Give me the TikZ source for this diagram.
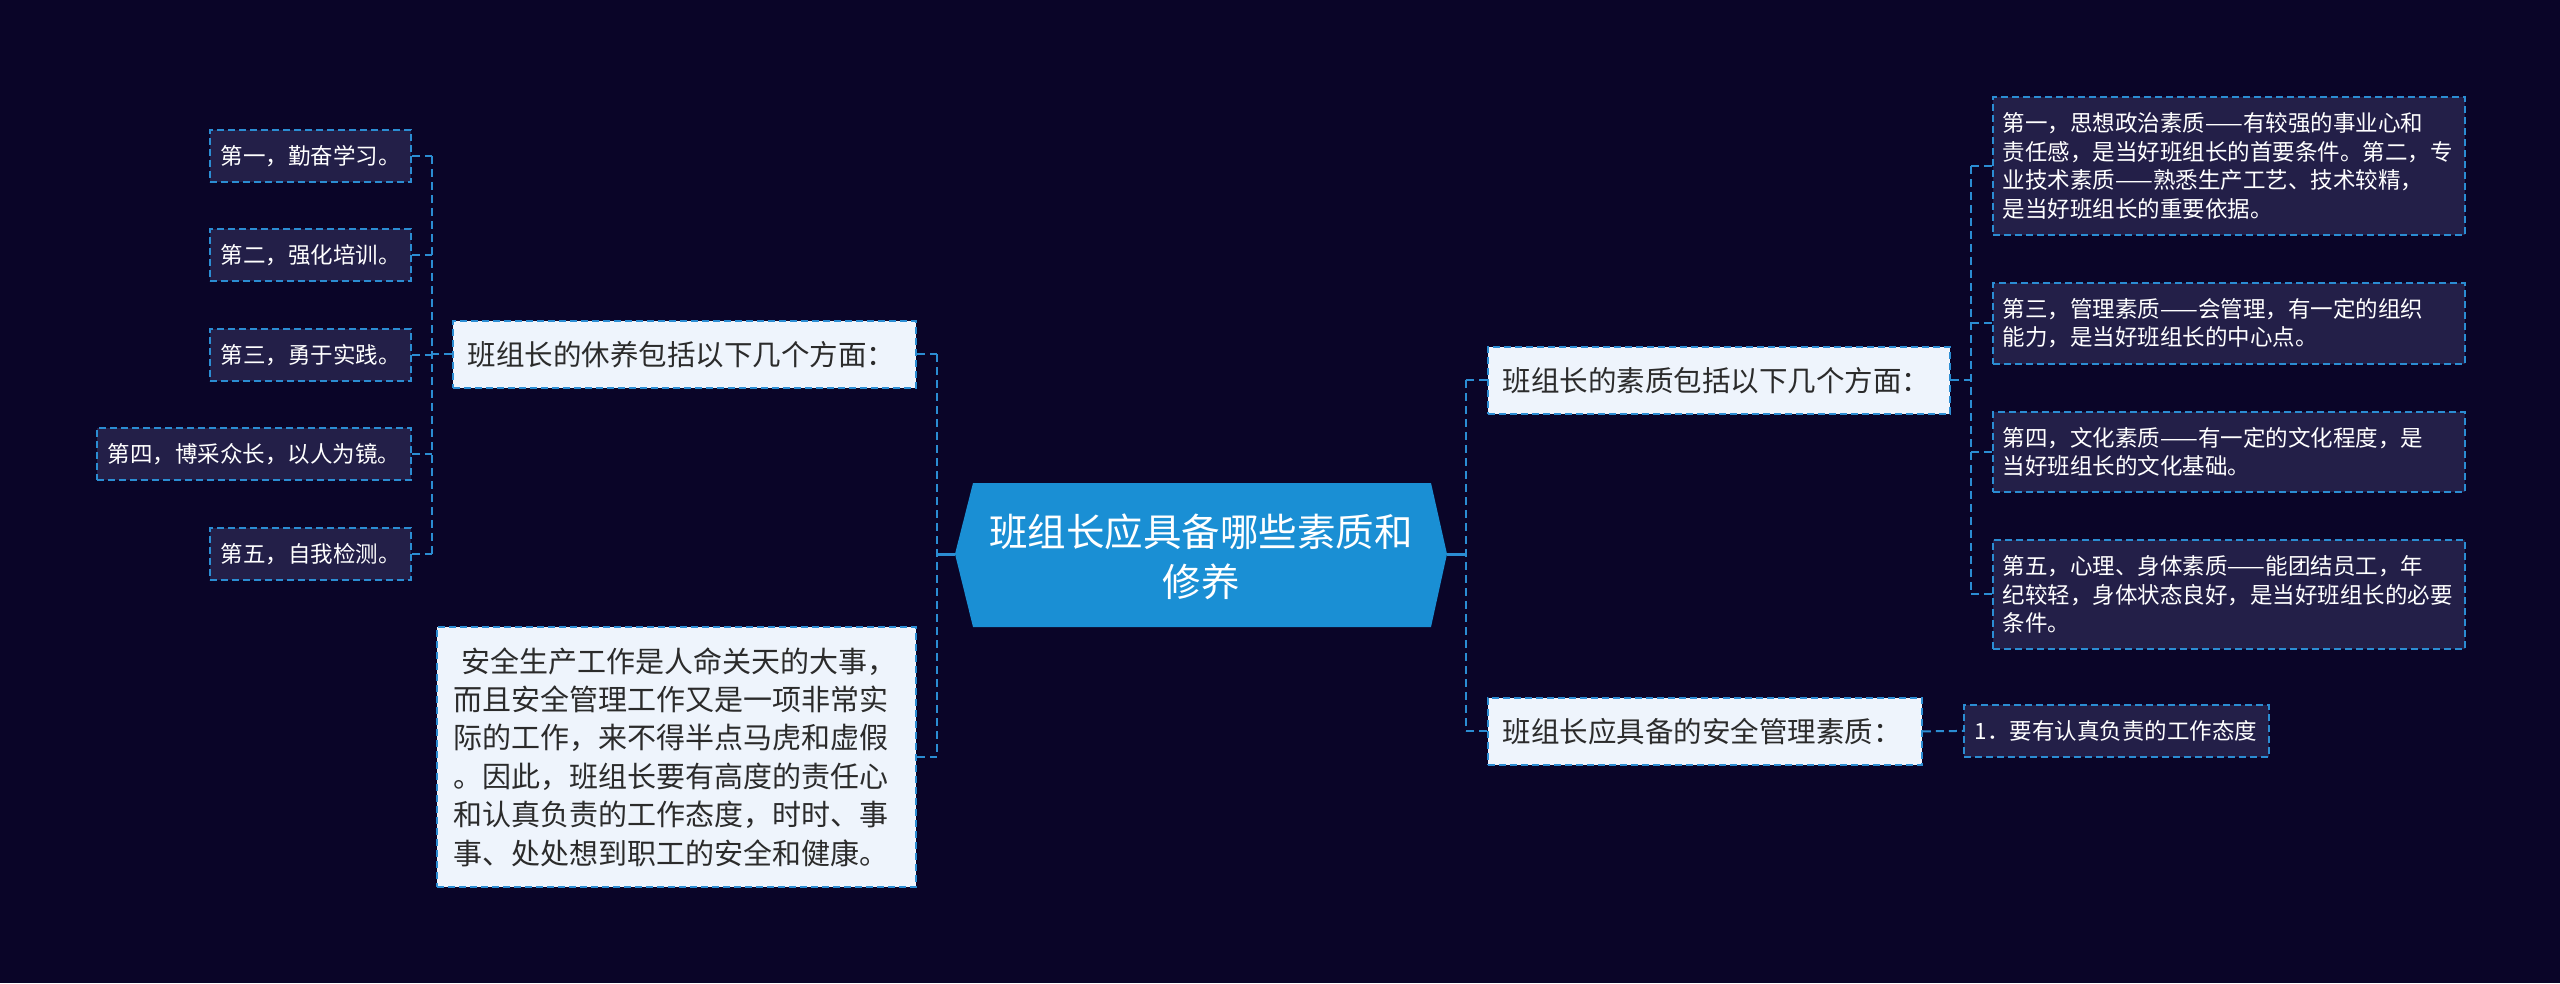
\documentclass[tikz,border=0pt]{standalone}
\usepackage{fontspec}
\setmainfont{Noto Sans CJK SC}
\definecolor{bg}{HTML}{0A0528}
\definecolor{lnk}{HTML}{2B8DD3}
\definecolor{leaffill}{HTML}{231F48}
\definecolor{brfill}{HTML}{EEF4FC}
\definecolor{brtext}{HTML}{2B2B2B}
\definecolor{rootfill}{HTML}{1A8FD4}
\begin{document}
\begin{tikzpicture}[x=1pt,y=-1pt,
  dashln/.style={draw=lnk, line width=2pt, dash pattern=on 8pt off 5pt},
  rootln/.style={draw=lnk, line width=3pt},
  boxbase/.style={anchor=north west, inner ysep=0pt, align=left, draw=lnk, line width=1.8pt, dash pattern=on 7pt off 4pt},
  leafbox/.style={boxbase, fill=leaffill, text=white, font=\fontsize{22.5}{28.5}\selectfont},
  brbox/.style={boxbase, fill=brfill, text=brtext, font=\fontsize{28.5}{34}\selectfont},
]
\useasboundingbox (0,0) rectangle (2560,983);
\fill[bg] (0,0) rectangle (2560,983);

% root
\fill[rootfill] (955,554) -- (973,483) -- (1431,483) -- (1447,554) -- (1431,627) -- (973,627) -- cycle;
\coordinate (rootL) at (955,554);
\coordinate (rootR) at (1447,554);
\node[text=white, font=\fontsize{38.5}{50}\selectfont, align=center] (root) at (1201,557) {班组长应具备哪些素质和\\修养};

% left branch nodes
\node[brbox, inner xsep=15pt, minimum width=463pt, minimum height=67pt, text width=433pt] (bl1) at (452,320) {班组长的休养包括以下几个方面：};
\node[brbox, inner xsep=17pt, minimum width=479pt, minimum height=260pt, text width=445pt, font=\fontsize{29}{38.4}\selectfont] (bl2) at (436,626) {\hspace*{8pt}安全生产工作是人命关天的大事，\\而且安全管理工作又是一项非常实\\际的工作，来不得半点马虎和虚假\\。因此，班组长要有高度的责任心\\和认真负责的工作态度，时时、事\\事、处处想到职工的安全和健康。};

% left leaves
\node[leafbox, inner xsep=11pt, minimum width=201pt, minimum height=52pt, text width=179pt] (ll1) at (209,129) {第一，勤奋学习。};
\node[leafbox, inner xsep=11pt, minimum width=201pt, minimum height=52pt, text width=179pt] (ll2) at (209,228) {第二，强化培训。};
\node[leafbox, inner xsep=11pt, minimum width=201pt, minimum height=52pt, text width=179pt] (ll3) at (209,328) {第三，勇于实践。};
\node[leafbox, inner xsep=11pt, minimum width=314pt, minimum height=52pt, text width=292pt] (ll4) at (96,427) {第四，博采众长，以人为镜。};
\node[leafbox, inner xsep=11pt, minimum width=201pt, minimum height=52pt, text width=179pt] (ll5) at (209,527) {第五，自我检测。};

% right branch nodes
\node[brbox, inner xsep=15pt, minimum width=462pt, minimum height=67pt, text width=432pt] (br1) at (1487,346) {班组长的素质包括以下几个方面：};
\node[brbox, inner xsep=15pt, minimum width=434pt, minimum height=67pt, text width=404pt] (br2) at (1487,697) {班组长应具备的安全管理素质：};

% right leaves
\node[leafbox, inner xsep=10pt, minimum width=472pt, minimum height=138pt, text width=452pt] (rl1) at (1992,96) {第一，思想政治素质——有较强的事业心和\\责任感，是当好班组长的首要条件。第二，专\\业技术素质——熟悉生产工艺、技术较精，\\是当好班组长的重要依据。};
\node[leafbox, inner xsep=10pt, minimum width=472pt, minimum height=81pt, text width=452pt] (rl2) at (1992,282) {第三，管理素质——会管理，有一定的组织\\能力，是当好班组长的中心点。};
\node[leafbox, inner xsep=10pt, minimum width=472pt, minimum height=80pt, text width=452pt] (rl3) at (1992,411) {第四，文化素质——有一定的文化程度，是\\当好班组长的文化基础。};
\node[leafbox, inner xsep=10pt, minimum width=472pt, minimum height=109pt, text width=452pt] (rl4) at (1992,539) {第五，心理、身体素质——能团结员工，年\\纪较轻，身体状态良好，是当好班组长的必要\\条件。};
\node[leafbox, inner xsep=11pt, minimum width=305pt, minimum height=52pt, text width=283pt] (sl) at (1963,704) {1．要有认真负责的工作态度};

% junction coordinates
\coordinate (jL) at (937,554);
\coordinate (jLL) at (432,0);
\coordinate (jR) at (1466,554);
\coordinate (jRR) at (1971,0);

% left connectors
\draw[rootln] (rootL) -- (jL);
\draw[dashln] (bl1.east -| jL) -- (bl2.east -| jL);
\draw[dashln] (bl1.east) -- (bl1.east -| jL);
\draw[dashln] (bl2.east) -- (bl2.east -| jL);
\draw[dashln] (ll1.east -| jLL) -- (ll5.east -| jLL);
\draw[dashln] (bl1.west) -- (bl1.west -| jLL);
\foreach \n in {ll1,ll2,ll3,ll4,ll5} \draw[dashln] (\n.east) -- (\n.east -| jLL);

% right connectors
\draw[rootln] (rootR) -- (jR);
\draw[dashln] (br1.west -| jR) -- (br2.west -| jR);
\draw[dashln] (br1.west) -- (br1.west -| jR);
\draw[dashln] (br2.west) -- (br2.west -| jR);
\draw[dashln] (rl1.west -| jRR) -- (rl4.west -| jRR);
\draw[dashln] (br1.east) -- (br1.east -| jRR);
\foreach \n in {rl1,rl2,rl3,rl4} \draw[dashln] (\n.west) -- (\n.west -| jRR);
\draw[dashln] (br2.east) -- (sl.west);
\end{tikzpicture}
\end{document}
